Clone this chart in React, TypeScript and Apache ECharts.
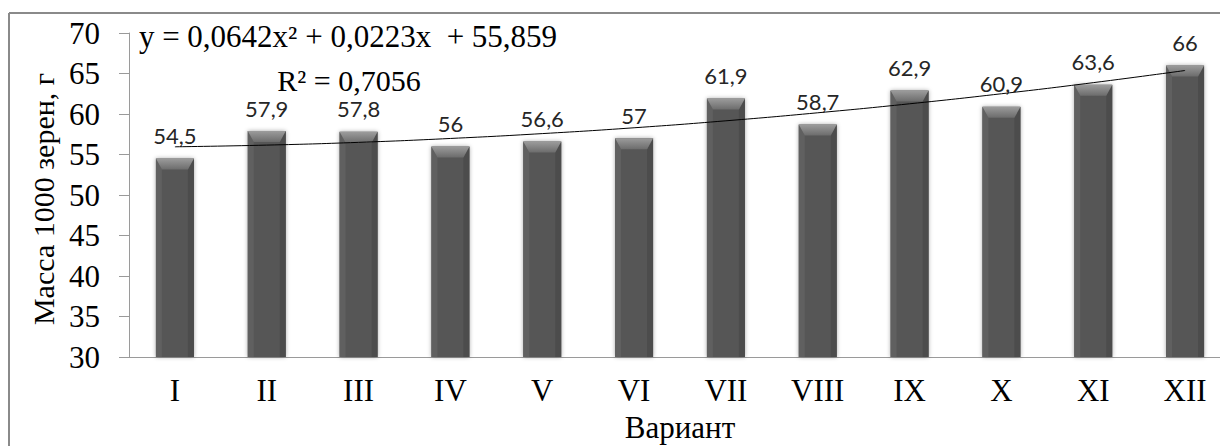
import React, { useEffect, useRef } from "react";
import * as echarts from "echarts";

const categories = ["I", "II", "III", "IV", "V", "VI", "VII", "VIII", "IX", "X", "XI", "XII"];
const massValues = [54.5, 57.9, 57.8, 56, 56.6, 57, 61.9, 58.7, 62.9, 60.9, 63.6, 66];
const trendValues = [55.95, 56.16, 56.5, 56.98, 57.58, 58.3, 59.16, 60.15, 61.26, 62.5, 63.87, 65.37];
const yTicks = { min: 30, max: 70, step: 5 };
const equationText = "y = 0,0642x\u00B2 + 0,0223x  + 55,859";
const r2Text = "R\u00B2 = 0,7056";
const yAxisTitle = "Масса 1000 зерен, г";
const xAxisTitle = "Вариант";

const SERIF = "'Liberation Serif', 'Times New Roman', serif";
const BAR_W = 38;

export default function App() {
  const ref = useRef<HTMLDivElement>(null);

  useEffect(() => {
    if (!ref.current) return;
    const chart = echarts.init(ref.current, undefined, { renderer: "svg" });
    const option: any = {
      animation: false,
      backgroundColor: "#ffffff",
      grid: {
        left: 129,
        right: -11,
        top: 33,
        bottom: 89,
        containLabel: false,
        outerBoundsMode: "none",
      },
      xAxis: {
        type: "category",
        data: categories,
        boundaryGap: true,
        axisLine: { show: true, lineStyle: { color: "#9a9a9a", width: 1 } },
        axisTick: { show: false },
        axisLabel: { color: "#000", fontFamily: SERIF, fontSize: 31, margin: 18 },
        name: xAxisTitle,
        nameLocation: "middle",
        nameGap: 55,
        nameTextStyle: { color: "#000", fontFamily: SERIF, fontSize: 31 },
        splitLine: { show: false },
      },
      yAxis: {
        type: "value",
        min: yTicks.min,
        max: yTicks.max,
        interval: yTicks.step,
        axisLine: { show: true, lineStyle: { color: "#9a9a9a", width: 1 } },
        axisTick: { show: true, length: 10, inside: false, lineStyle: { color: "#9a9a9a" } },
        axisLabel: { color: "#000", fontFamily: SERIF, fontSize: 31, margin: 29 },
        splitLine: { show: false },
      },
      series: [
        {
          type: "bar",
          data: massValues,
          barWidth: BAR_W,
          z: 2,
          itemStyle: {
            color: "#575757",
            shadowBlur: 4,
            shadowColor: "rgba(0,0,0,0.35)",
          },
          label: {
            show: true,
            position: "top",
            distance: 14,
            color: "#262626",
            fontFamily: "Lato, 'Open Sans', sans-serif",
            fontSize: 22,
            lineHeight: 18,
            formatter: (p: any) => String(p.value).replace(".", ","),
          },
        },
        {
          type: "custom",
          z: 3,
          silent: true,
          data: massValues.map((v, i) => [i, v]),
          renderItem: (params: any, api: any) => {
            const top = api.coord([api.value(0), api.value(1)]);
            const bottom = api.coord([api.value(0), yTicks.min]);
            const l = top[0] - BAR_W / 2;
            const r = top[0] + BAR_W / 2;
            const t = top[1];
            const b = bottom[1];
            const bev = 6;
            const bh = 11;
            return {
              type: "group",
              children: [
                {
                  type: "polygon",
                  shape: { points: [[l, t], [l + bev, t + bh], [l + bev, b], [l, b]] },
                  style: { fill: "#606060" },
                },
                {
                  type: "polygon",
                  shape: { points: [[r, t], [r - bev, t + bh], [r - bev, b], [r, b]] },
                  style: { fill: "#4c4c4c" },
                },
                {
                  type: "polygon",
                  shape: { points: [[l, t], [r, t], [r - bev, t + bh], [l + bev, t + bh]] },
                  style: {
                    fill: new echarts.graphic.LinearGradient(0, 0, 0, 1, [
                      { offset: 0, color: "#9c9c9c" },
                      { offset: 1, color: "#6c6c6c" },
                    ]),
                  },
                },
              ],
            };
          },
        },
        {
          type: "line",
          data: trendValues,
          z: 5,
          smooth: true,
          symbol: "none",
          silent: true,
          lineStyle: { color: "#000", width: 1 },
        },
      ],
      graphic: [
        {
          type: "line",
          shape: { x1: 9, y1: 13, x2: 1220, y2: 13 },
          style: { stroke: "#8a8a8a", lineWidth: 2 },
          z: 10,
        },
        {
          type: "line",
          shape: { x1: 9, y1: 13, x2: 9, y2: 446 },
          style: { stroke: "#8a8a8a", lineWidth: 2 },
          z: 10,
        },
        {
          type: "text",
          x: 43,
          y: 199,
          rotation: Math.PI / 2,
          z: 10,
          style: {
            text: yAxisTitle,
            fill: "#000",
            font: "30px " + SERIF,
            textAlign: "center",
            textVerticalAlign: "middle",
          },
        },
        {
          type: "text",
          x: 348,
          y: 36,
          z: 10,
          style: {
            text: equationText,
            fill: "#000",
            font: "31px " + SERIF,
            textAlign: "center",
            textVerticalAlign: "middle",
          },
        },
        {
          type: "text",
          x: 349,
          y: 80,
          z: 10,
          style: {
            text: r2Text,
            fill: "#000",
            font: "30px " + SERIF,
            lineHeight: 24,
            textAlign: "center",
            textVerticalAlign: "middle",
          },
        },
      ],
    };
    chart.setOption(option);
    return () => chart.dispose();
  }, []);

  return (
    <div
      style={{
        position: "fixed",
        left: 0,
        top: 0,
        width: 1220,
        height: 446,
        overflow: "hidden",
        background: "#fff",
      }}
    >
      <div ref={ref} style={{ width: 1220, height: 446 }} />
    </div>
  );
}
